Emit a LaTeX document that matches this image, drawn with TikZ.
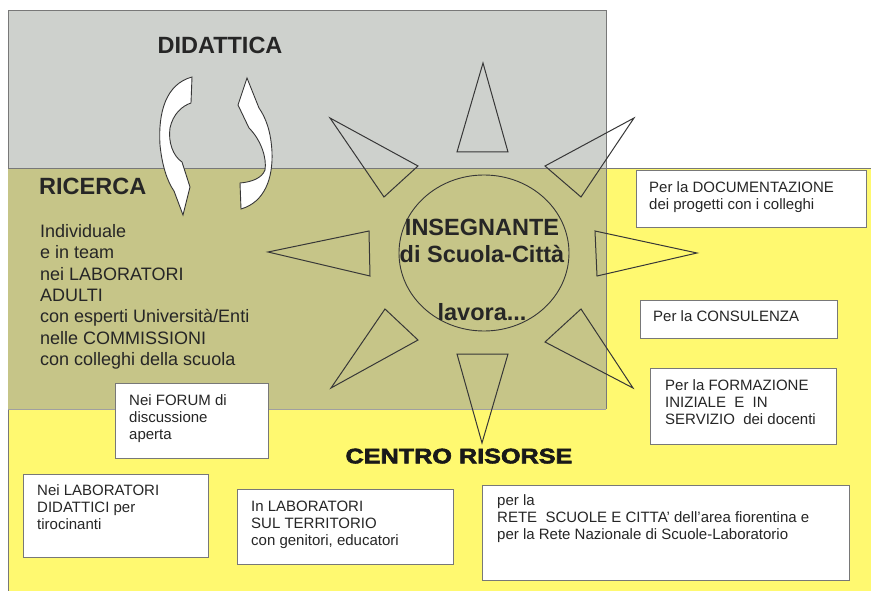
\documentclass[tikz,border=0pt]{standalone}
\usepackage{fontspec}
\usepackage{graphicx}
\setmainfont{Liberation Sans}
\newfontfamily\heavyfont[FakeBold=2.5]{Liberation Sans}
\usetikzlibrary{shapes.geometric,calc}
\definecolor{grayzone}{RGB}{206,209,205}
\definecolor{olivezone}{RGB}{198,197,136}
\definecolor{yellowzone}{RGB}{255,249,112}
\definecolor{edgegray}{RGB}{120,120,120}
\definecolor{linedark}{RGB}{55,55,55}
\begin{document}
\begin{tikzpicture}[x=1pt,y=-1pt,
  zone/.style={draw=edgegray, line width=0.8pt},
  ray/.style={draw=linedark, line width=1pt, line join=miter},
  bentarrow/.style={draw=linedark, fill=white, line width=0.9pt},
  title/.style={inner sep=0pt, font=\bfseries\fontsize{23.5}{27}\selectfont, text=black!85},
  lefttext/.style={inner sep=0pt, align=left, font=\fontsize{18}{21.33}\selectfont, text=black!85},
  boxtext/.style={inner sep=0pt, align=left, font=\fontsize{15}{17}\selectfont, text=black!85},
  whitebox/.style={draw=edgegray, fill=white, line width=0.7pt, inner sep=0pt, anchor=north west}
]
\useasboundingbox (0,0) rectangle (871,591);
\fill[white] (0,0) rectangle (871,591);
% zones
\fill[yellowzone] (8,168) rectangle (871,591);
\draw[zone] (8,591) -- (8,168) -- (871,168);
\fill[olivezone] (8,168) rectangle (606,409);
\draw[edgegray!70, line width=0.5pt] (8,409) -- (606,409);
\fill[grayzone] (8,10) rectangle (606,168);
\draw[zone] (8,168) -- (8,10) -- (606,10) -- (606,409);
\draw[zone] (8,168) -- (606,168);

% titles
\node[title, anchor=base] (did) at (220,53.3) {DIDATTICA};
\node[title, anchor=base west] (ric) at (39,194.3) {RICERCA};

% curved arrows
\draw[bentarrow] (192,77) .. controls (166,84) and (158,112) .. (160,145)
  .. controls (162,165) and (167,181) .. (174,191) -- (183,215) -- (190,187) -- (182,162)
  .. controls (173,156) and (168,142) .. (170,128)
  .. controls (173,114) and (182,106) .. (191,103) -- cycle;
\draw[bentarrow] (241,209) .. controls (265,202) and (273,178) .. (272,152)
  .. controls (271,132) and (266,118) .. (259,108) -- (247,78) -- (238,105) -- (249,128)
  .. controls (261,140) and (267,158) .. (265,170)
  .. controls (262,178) and (252,182) .. (240,183) -- cycle;

% left text
\node[lefttext, anchor=north west] (ind) at (40,224.3) {Individuale\\e in team\\nei LABORATORI\\ADULTI\\con esperti Università/Enti\\nelle COMMISSIONI\\con colleghi della scuola};

% centre
\node[draw=linedark, line width=0.9pt, ellipse, minimum width=170pt, minimum height=156pt, inner sep=0pt] (ins) at (484,253) {};
\node[title, anchor=base] (insA) at (482,236) {INSEGNANTE};
\node[title, anchor=base] (insB) at (482,262.3) {di Scuola-Città};
\node[title, anchor=base] (insC) at (482,320) {lavora...};

% rays
\draw[ray] (483,63) -- (457,152) -- (508,152) -- cycle;
\draw[ray] (330,118) -- (418,166) -- (384,197) -- cycle;
\draw[ray] (268,252) -- (369,231) -- (370,276) -- cycle;
\draw[ray] (331,388) -- (385,309) -- (418,340) -- cycle;
\draw[ray] (482,443) -- (457,354) -- (508,354) -- cycle;
\draw[ray] (633,388) -- (545,342) -- (581,309) -- cycle;
\draw[ray] (697,253) -- (595,231) -- (597,276) -- cycle;
\draw[ray] (634,118) -- (545,166) -- (581,197) -- cycle;

% boxes
\node[whitebox, minimum width=230pt, minimum height=57pt] (doc) at (636,170) {};
\node[boxtext, anchor=north west] (docT) at (649,181) {Per la DOCUMENTAZIONE\\dei progetti con i colleghi};
\node[whitebox, minimum width=197pt, minimum height=38pt] (cons) at (640,300) {};
\node[boxtext, anchor=base west] (consT) at (653,321.7) {Per la CONSULENZA};
\node[whitebox, minimum width=186pt, minimum height=76pt] (form) at (650,368) {};
\node[boxtext, anchor=north west] (formT) at (665,379.3) {Per la FORMAZIONE\\INIZIALE\ \ E\ \ IN\\SERVIZIO\ \ dei docenti};
\node[whitebox, minimum width=153pt, minimum height=75pt] (forum) at (115,383) {};
\node[boxtext, anchor=north west] (forumT) at (129,394.3) {Nei FORUM di\\discussione\\aperta};
\node[whitebox, minimum width=185pt, minimum height=83pt] (labd) at (23,474) {};
\node[boxtext, anchor=north west] (labdT) at (37,484.3) {Nei LABORATORI\\DIDATTICI per\\tirocinanti};
\node[whitebox, minimum width=216pt, minimum height=75pt] (labt) at (237,489) {};
\node[boxtext, anchor=north west] (labtT) at (251,501) {In LABORATORI\\SUL TERRITORIO\\con genitori, educatori};
\node[whitebox, minimum width=367pt, minimum height=95pt] (rete) at (482,485) {};
\node[boxtext, anchor=north west] (reteT) at (497,494.3) {per la\\RETE\ \ SCUOLE E CITTA' dell'area fiorentina e\\per la Rete Nazionale di Scuole-Laboratorio};

% centro risorse
\node[inner sep=0pt, anchor=base, text=black!90] (cr) at (459,463.3) {\scalebox{1.2}[1]{\heavyfont\bfseries\fontsize{21}{24}\selectfont CENTRO RISORSE}};
\end{tikzpicture}
\end{document}
